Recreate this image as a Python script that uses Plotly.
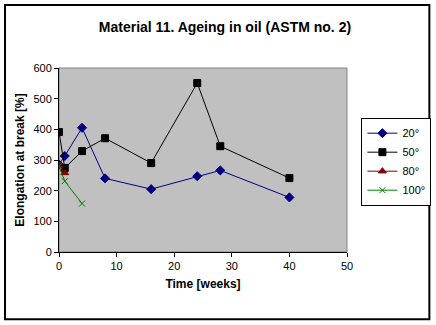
import plotly.graph_objects as go

# Elongation at break [%] vs ageing time [weeks] at four oil temperatures
weeks_20 = [0, 1, 4, 8, 16, 24, 28, 40]
elong_20 = [285, 313, 405, 240, 205, 247, 266, 178]

weeks_50 = [0, 1, 4, 8, 16, 24, 28, 40]
elong_50 = [391, 274, 329, 371, 290, 551, 345, 241]

weeks_80 = [0, 1]
elong_80 = [284, 258]

weeks_100 = [0, 1, 4]
elong_100 = [280, 231, 158]

series_names = ["20°", "50°", "80°", "100°"]

FONT = "Arial, Liberation Sans, sans-serif"

fig = go.Figure()

styles = [
    (weeks_20, elong_20, "#000080", "diamond", 7),
    (weeks_50, elong_50, "#000000", "square", 7),
    (weeks_80, elong_80, "#800000", "triangle-up", 7),
    (weeks_100, elong_100, "#008000", "x-thin-open", 6),
]

for name, (xs, ys, col, sym, sz) in zip(series_names, styles):
    fig.add_trace(go.Scatter(
        x=xs, y=ys, name=name, mode="lines+markers",
        line=dict(color=col, width=1),
        marker=dict(symbol=sym, size=sz, color=col,
                    line=dict(color=col, width=1)),
    ))

fig.update_layout(
    width=436, height=325,
    margin=dict(l=59, r=89, t=68, b=73, autoexpand=False),
    paper_bgcolor="white",
    plot_bgcolor="#c0c0c0",
    font=dict(family=FONT, size=11, color="black"),
    title=dict(text="<b>Material 11. Ageing in oil (ASTM no. 2)</b>",
               x=0.516, xanchor="center", y=0.917, yanchor="middle",
               font=dict(size=14, family=FONT)),
    showlegend=True,
    legend=dict(x=1.05, xanchor="left", y=0.73, yanchor="top",
                bordercolor="black", borderwidth=1, bgcolor="white",
                font=dict(size=11, family=FONT),
                itemwidth=30, tracegroupgap=0),
    xaxis=dict(range=[0, 50], tickvals=[0, 10, 20, 30, 40, 50],
               showgrid=False, zeroline=False, showline=True,
               linecolor="black", linewidth=1, ticks="outside",
               ticklen=4, tickcolor="black", mirror=False,
               title=dict(text="<b>Time [weeks]</b>", standoff=8,
                          font=dict(size=12))),
    yaxis=dict(range=[0, 600], tickvals=[0, 100, 200, 300, 400, 500, 600],
               showgrid=False, zeroline=False, showline=True,
               linecolor="black", linewidth=1, ticks="outside",
               ticklen=4, tickcolor="black",
               title=dict(text="<b>Elongation at break [%]</b>", standoff=6,
                          font=dict(size=12))),
)

# Gray frame around the plot area
fig.add_shape(type="rect", xref="paper", yref="paper", x0=0, y0=0, x1=1, y1=1,
              line=dict(color="#808080", width=1), layer="below")

# Black outer frame around the whole chart
fig.add_shape(type="rect", xref="paper", yref="paper",
              x0=-0.1875, x1=1.286, y0=-0.365, y1=1.342,
              line=dict(color="black", width=2))

fig.write_html("out.html")
